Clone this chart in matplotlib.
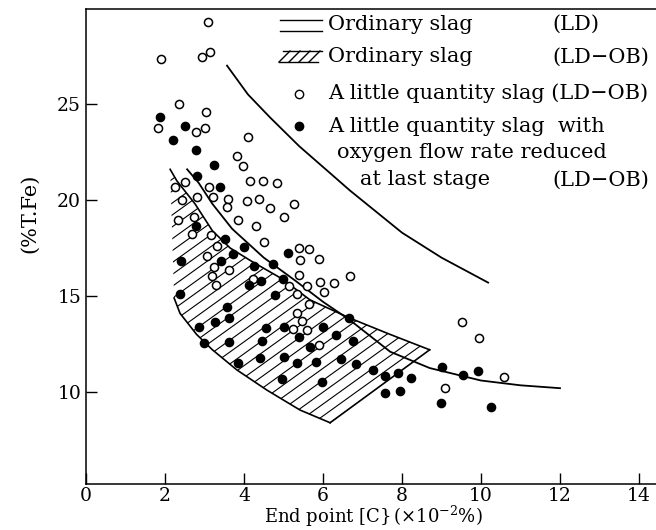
import numpy as np
import matplotlib
matplotlib.use("Agg")
import matplotlib.pyplot as plt
from matplotlib.patches import Polygon
from matplotlib.lines import Line2D

plt.rcParams['font.family'] = ['DejaVu Serif']
plt.rcParams['mathtext.fontset'] = 'dejavuserif'

# open circles: a little quantity slag (LD-OB)
open_x = [3.10, 1.90, 2.94, 3.14, 2.35, 3.03, 1.83, 3.01, 2.79, 4.09, 3.83, 3.97, 4.15, 4.47,
          4.84, 2.51, 2.25, 3.11, 2.80, 3.21, 3.59, 3.57, 2.44, 4.07, 4.38, 5.27, 4.67, 5.02,
          2.32, 2.73, 3.85, 4.30, 2.68, 3.16, 4.51, 3.32, 5.38, 5.65, 5.43, 5.91, 5.38, 5.92,
          6.29, 6.68, 5.60, 6.03, 5.33, 5.15, 3.61, 3.25, 3.07, 3.19, 3.28, 4.24, 5.65, 5.33,
          5.46, 5.23, 5.59, 5.91, 9.51, 9.94, 10.59, 9.10]
open_y = [29.25, 27.36, 27.46, 27.69, 25.02, 24.58, 23.75, 23.75, 23.54, 23.26, 22.31, 21.77,
          21.00, 20.99, 20.89, 20.92, 20.66, 20.69, 20.17, 20.17, 20.05, 19.65, 20.00, 19.93,
          20.05, 19.79, 19.57, 19.11, 18.98, 19.10, 18.96, 18.65, 18.24, 18.18, 17.83, 17.62,
          17.48, 17.43, 16.88, 16.91, 16.10, 15.71, 15.66, 16.06, 15.54, 15.22, 15.10, 15.54,
          16.35, 16.53, 17.10, 16.06, 15.57, 15.87, 14.58, 14.13, 13.71, 13.30, 13.23, 12.45,
          13.65, 12.80, 10.80, 10.23]

# filled circles: oxygen flow rate reduced at last stage (LD-OB)
fill_x = [1.88, 2.51, 2.21, 2.78, 3.25, 2.82, 3.38, 2.79, 3.53, 4.01, 5.11, 2.41, 3.41, 3.73,
          4.26, 4.73, 4.98, 4.13, 4.43, 2.38, 4.78, 3.58, 3.63, 3.26, 2.86, 2.99, 3.62, 4.56,
          5.00, 5.40, 5.99, 6.67, 4.45, 5.67, 6.33, 6.75, 3.84, 4.41, 5.00, 5.33, 5.82, 6.46,
          6.84, 4.97, 5.98, 7.27, 7.58, 7.89, 8.22, 7.58, 7.96, 9.01, 9.54, 9.92, 8.98, 10.25]
fill_y = [24.31, 23.85, 23.13, 22.62, 21.82, 21.27, 20.68, 18.65, 17.97, 17.54, 17.22, 16.84,
          16.82, 17.17, 16.56, 16.67, 15.87, 15.57, 15.80, 15.10, 15.05, 14.45, 13.84, 13.67,
          13.41, 12.57, 12.60, 13.35, 13.37, 12.88, 13.40, 13.84, 12.68, 12.36, 12.97, 12.67,
          11.49, 11.79, 11.81, 11.49, 11.55, 11.70, 11.46, 10.68, 10.54, 11.15, 10.83, 11.00,
          10.75, 9.97, 10.05, 11.32, 10.89, 11.09, 9.41, 9.24]

# ordinary slag (LD): band between two curves
ld_top_x = [3.57, 4.10, 4.66, 5.40, 6.18, 6.68, 8.00, 9.00, 10.18]
ld_top_y = [27.0, 25.5, 24.3, 22.8, 21.4, 20.5, 18.3, 17.0, 15.7]
ld_low_x = [2.56, 2.85, 3.20, 3.70, 4.50, 5.30, 6.00, 6.68, 7.70, 8.70, 10.0, 11.0, 12.0]
ld_low_y = [21.6, 20.9, 19.8, 18.5, 17.0, 15.8, 14.7, 13.75, 12.1, 11.25, 10.6, 10.35, 10.2]

# ordinary slag (LD-OB): hatched band
ob_top_x = [2.13, 2.30, 2.76, 3.20, 3.65, 4.20, 4.96, 5.67, 6.68, 7.70, 8.70]
ob_top_y = [21.6, 21.0, 19.8, 18.4, 17.5, 16.8, 15.9, 14.8, 13.85, 13.0, 12.2]
ob_low_x = [2.23, 2.38, 2.80, 3.20, 3.82, 4.58, 5.42, 6.18]
ob_low_y = [14.9, 14.1, 13.0, 12.2, 11.15, 10.1, 9.06, 8.4]

fig = plt.figure(figsize=(6.56, 5.30), dpi=100)
ax = fig.add_axes([86 / 656, 1 - 484 / 530, (656 - 86) / 656, (484 - 9) / 530])
ax.set_xlim(0, 14.43)
ax.set_ylim(5.21, 29.95)

# hatched region
poly_pts = list(zip(ob_top_x, ob_top_y)) + list(zip(ob_low_x[::-1], ob_low_y[::-1]))
region = Polygon(poly_pts, closed=True, facecolor='none', edgecolor='none')
ax.add_patch(region)
slope = 1.48
b_last = ob_low_y[-1] - slope * ob_low_x[-1]
xs = np.array([0, 15])
for b in np.arange(b_last, 18.8, 0.62):
    ln, = ax.plot(xs, slope * xs + b, color='black', lw=0.8, zorder=1)
    ln.set_clip_path(region)
ax.plot(ob_top_x, ob_top_y, color='black', lw=1.2, zorder=2)
ax.plot(ob_low_x, ob_low_y, color='black', lw=1.2, zorder=2)
ax.plot([ob_low_x[-1], ob_top_x[-1]], [ob_low_y[-1], ob_top_y[-1]], color='black', lw=1.2, zorder=2)

ax.plot(ld_top_x, ld_top_y, color='black', lw=1.3, zorder=2)
ax.plot(ld_low_x, ld_low_y, color='black', lw=1.3, zorder=2)

ax.scatter(open_x, open_y, s=34, facecolor='white', edgecolor='black', linewidth=1.1, zorder=3)
ax.scatter(fill_x, fill_y, s=34, facecolor='black', edgecolor='black', linewidth=1.1, zorder=4)

ax.set_xticks([0, 2, 4, 6, 8, 10, 12, 14])
ax.set_yticks([10, 15, 20, 25])
ax.tick_params(direction='in', length=8, width=1, labelsize=13.5)
ax.tick_params(axis='x', pad=2)
ax.spines['right'].set_visible(False)
for s in ['left', 'bottom', 'top']:
    ax.spines[s].set_linewidth(1.1)

fig.text(373 / 656, 1 - 516 / 530, r"End point [C}$\,$(×10$^{-2}$%)", ha='center', va='center', fontsize=13)
fig.text(30 / 656, 1 - 213 / 530, "(%T.Fe)", rotation=90, ha='center', va='center', fontsize=15)

# legend, drawn by hand
def fx(p):
    return p / 656
def fy(p):
    return 1 - p / 530

for yy in [19.5, 30.5]:
    fig.add_artist(Line2D([fx(280), fx(322)], [fy(yy), fy(yy)], color='black', lw=1.0))
fig.add_artist(Line2D([fx(283), fx(322)], [fy(51), fy(51)], color='black', lw=1.0))
fig.add_artist(Line2D([fx(279), fx(318)], [fy(62), fy(62)], color='black', lw=1.0))
for k in range(4):
    x0 = 279 + k * 10
    fig.add_artist(Line2D([fx(x0), fx(x0 + 11)], [fy(62), fy(51)], color='black', lw=1.0))
fig.add_artist(Line2D([fx(299)], [fy(94)], marker='o', ms=6, mfc='white', mec='black', mew=1.0))
fig.add_artist(Line2D([fx(299)], [fy(126)], marker='o', ms=6, mfc='black', mec='black', mew=1.0))

rows = [
    (328, 24, "Ordinary slag"),
    (552, 24, "(LD)"),
    (328, 57, "Ordinary slag"),
    (552, 57, "(LD−OB)"),
    (328, 93, "A little quantity slag (LD−OB)"),
    (328, 126, "A little quantity slag  with"),
    (337, 153, "oxygen flow rate reduced"),
    (360, 180, "at last stage"),
    (552, 180, "(LD−OB)"),
]
for px, py, txt in rows:
    fig.text(fx(px), fy(py), txt, ha='left', va='center', fontsize=15)

fig.savefig("out.png", dpi=100)
